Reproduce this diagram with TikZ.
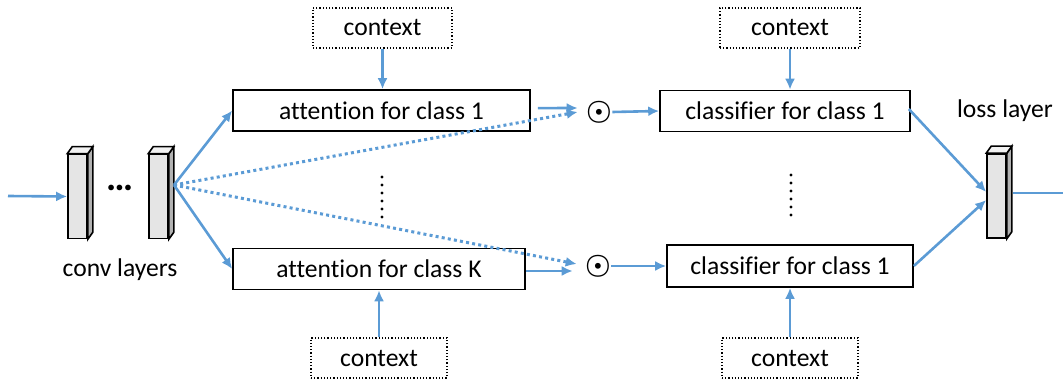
\documentclass[tikz,border=0pt]{standalone}
\usepackage{fontspec}
\setmainfont{Carlito}[Ligatures=NoCommon]
\usepackage{tikz}
\usetikzlibrary{positioning,arrows.meta}

\definecolor{arrblue}{RGB}{91,155,213}

\tikzset{
  box/.style={draw,line width=0.8pt,minimum height=20.5pt,inner sep=0pt},
  ctxbox/.style={draw,densely dotted,line width=0.6pt,minimum width=69.5pt,minimum height=20pt,inner sep=0pt},
  layer/.style={draw,line width=0.8pt,fill=black!10,minimum width=9.5pt,minimum height=42pt,inner sep=0pt},
  arr/.style={-{Latex[length=5.5pt,width=5pt]},arrblue,line width=1.3pt},
  dotarr/.style={-{Latex[length=5.5pt,width=5pt]},arrblue,line width=1.5pt,dash pattern=on 1.5pt off 1.6pt},
  prod/.style={inner sep=0pt,font=\boldmath\fontsize{15.5}{15.5}\selectfont},
}

% 3d bar: name, x, y
\newcommand{\layerbar}[3]{%
\node[layer] (#1) at (#2,#3) {};
\draw[line width=0.8pt,fill=black!30] (#1.north east) -- ++(5,-7) -- ([shift={(5,-7)}]#1.south east) -- (#1.south east) -- cycle;
\draw[line width=0.8pt,fill=black!5] (#1.north west) -- ++(5,-7) -- ([shift={(5,-7)}]#1.north east) -- (#1.north east) -- cycle;
}

\begin{document}
\begin{tikzpicture}[x=0.5pt,y=-0.5pt,font=\fontsize{12.8}{15}\selectfont]
\useasboundingbox (0,0) rectangle (1063,379);

% conv layers
\coordinate (in) at (8,196);
\layerbar{conv1}{77.5}{196.5}
\layerbar{conv2}{158.5}{196.5}
\node[font=\fontsize{19}{19}\selectfont\bfseries] (hdots) at (120,188) {\ldots};
\node (convlbl) at (120,270) {conv layers};
\draw[arr] (in) -- (conv1.west);
\coordinate (fan) at (174,185);

% attention
\node[box,minimum width=148.5pt] (att1) at (381.5,110.5) {attention for class 1};
\node[box,minimum width=146pt] (attK) at (379,269) {attention for class K};
\node[ctxbox] (ctxa) at (382.5,28) {context};
\node[ctxbox,minimum width=68pt] (ctxb) at (379,358) {context};
\draw[arr] (ctxa.south) -- (ctxa.south |- att1.north);
\draw[arr] (ctxb.north) -- (ctxb.north |- attK.south);
\draw[arr] (fan) -- (att1.west);
\draw[arr] (fan) -- (attK.west);
\foreach \k in {0,...,5} \fill (382,177+8*\k) circle (1.7);

% products
\node[prod] (dot1) at (599,112) {$\odot$};
\node[prod] (dotK) at (598,266) {$\odot$};
\draw[arr] ([xshift=3.5pt,yshift=1.2pt]att1.east) -- ([xshift=-4pt,yshift=2pt]dot1.west);
\draw[arr] ([yshift=-1pt]attK.east) -- ([xshift=-6pt,yshift=-2.5pt]dotK.west);
\draw[dotarr] (fan) -- ([xshift=-4pt]dot1.west);
\draw[dotarr] (fan) -- ([xshift=-4pt,yshift=1pt]dotK.west);

% classifiers
\node[box,minimum width=125pt] (cls1) at (785,111) {classifier for class 1};
\node[box,minimum width=123pt,minimum height=21pt] (clsK) at (790,266) {classifier for class 1};
\node[ctxbox,minimum width=70pt] (ctxc) at (790,28) {context};
\node[ctxbox,minimum width=68pt] (ctxd) at (790,358) {context};
\draw[arr] (ctxc.south) -- (ctxc.south |- cls1.north);
\draw[arr] (ctxd.north) -- (ctxd.north |- clsK.south);
\draw[arr] (dot1.east) -- (cls1.west);
\draw[arr] (dotK.east) -- (clsK.west);
\foreach \k in {0,...,5} \fill (791,175+8*\k) circle (1.7);

% loss
\layerbar{loss}{996.5}{196}
\node (losslbl) at (1005,111) {loss layer};
\coordinate (out) at (1063,193);
\draw[arr] ([xshift=-1pt,yshift=1pt]cls1.east) -- ([yshift=2pt]loss.west);
\draw[arr] (clsK.east) -- ([yshift=-2pt]loss.west);
\draw[arrblue,line width=1.3pt] ([xshift=3pt,yshift=1.5pt]loss.east) -- (out);
\end{tikzpicture}
\end{document}
